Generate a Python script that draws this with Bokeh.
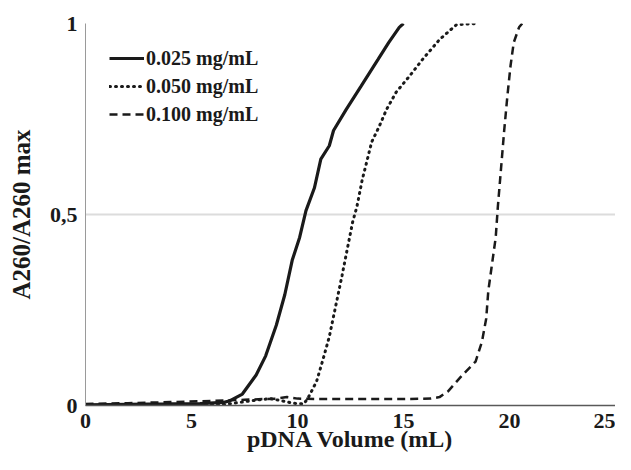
from bokeh.plotting import figure
from bokeh.models import FixedTicker, Legend, LegendItem, Range1d
from bokeh.embed import file_html
from bokeh.resources import INLINE

# ---- data ----
x_025 = [0, 2, 4, 5.4, 6.5, 6.8, 7.4, 8.05, 8.5, 9.0, 9.4, 9.75, 10.1, 10.4, 10.8,
         11.1, 11.5, 11.7, 12.3, 13.0, 13.8, 14.3, 14.8, 15.0]
y_025 = [0.002, 0.003, 0.004, 0.005, 0.008, 0.012, 0.03, 0.08, 0.13, 0.21, 0.29, 0.38,
         0.44, 0.51, 0.57, 0.645, 0.68, 0.72, 0.775, 0.836, 0.906, 0.95, 0.99, 1.0]

x_050 = [0, 3, 6.5, 7.5, 8.2, 8.7, 9.3, 9.8, 10.3, 10.5, 10.9, 11.2, 11.5, 11.8, 12.1,
         12.35, 12.6, 12.8, 13.05, 13.5, 13.85, 14.2, 14.65, 15.25, 15.9, 16.7, 17.5, 18.5]
y_050 = [0.0, 0.0, 0.002, 0.01, 0.015, 0.018, 0.012, 0.006, 0.004, 0.02, 0.063, 0.12,
         0.18, 0.26, 0.34, 0.41, 0.48, 0.52, 0.59, 0.69, 0.73, 0.775, 0.82, 0.86, 0.906,
         0.958, 0.997, 1.0]

x_100 = [0, 2, 4, 6, 7.5, 9, 9.5, 10, 11, 13, 15, 16.3, 16.7, 17.1, 17.75, 18.4, 18.7,
         18.9, 19.0, 19.15, 19.35, 19.45, 19.6, 19.75, 19.9, 20.05, 20.2, 20.45, 20.6]
y_100 = [0.004, 0.006, 0.009, 0.012, 0.015, 0.018, 0.022, 0.018, 0.017, 0.017, 0.017,
         0.018, 0.022, 0.037, 0.078, 0.115, 0.167, 0.227, 0.30, 0.36, 0.44, 0.52, 0.62,
         0.72, 0.81, 0.89, 0.95, 0.99, 1.0]

series_labels = ["0.025 mg/mL", "0.050 mg/mL", "0.100 mg/mL"]
x_ticks = [0, 5, 10, 15, 20, 25]
y_ticks = [0, 0.5, 1]
y_tick_labels = ["0", "0,5", "1"]

FONT = "Liberation Serif"
INK = "#1a1a1a"

p = figure(width=615, height=454, output_backend="svg", toolbar_location=None,
           x_range=Range1d(0, 25), y_range=Range1d(0, 1),
           min_border_left=85, min_border_right=0, min_border_top=23, min_border_bottom=45)
p.outline_line_color = None
p.background_fill_color = "white"
p.border_fill_color = "white"

l1 = p.line(x_025, y_025, line_color=INK, line_width=3.2)
l2 = p.line(x_050, y_050, line_color=INK, line_width=3, line_dash="1 5", line_cap="round")
l3 = p.line(x_100, y_100, line_color=INK, line_width=2.5, line_dash="8 5")

# axes
p.xaxis.ticker = FixedTicker(ticks=x_ticks)
p.yaxis.ticker = FixedTicker(ticks=y_ticks)
p.yaxis.major_label_overrides = {t: s for t, s in zip(y_ticks, y_tick_labels)}
for ax in (p.xaxis, p.yaxis):
    ax.major_tick_line_color = None
    ax.minor_tick_line_color = None
    ax.major_tick_out = 0
    ax.major_tick_in = 0
    ax.minor_tick_out = 0
    ax.minor_tick_in = 0
    ax.major_label_text_font = FONT
    ax.major_label_text_font_style = "bold"
    ax.major_label_text_font_size = "22px"
    ax.major_label_text_color = INK
    ax.axis_label_text_font = FONT
    ax.axis_label_text_font_style = "bold"
    ax.axis_label_text_color = INK
p.xaxis.axis_label_text_font_size = "24px"
p.yaxis.axis_label_text_font_size = "25px"
p.xaxis.axis_line_color = "#595959"
p.xaxis.axis_line_width = 1.5
p.yaxis.axis_line_color = "#9a9a9a"
p.yaxis.axis_line_width = 1
p.xaxis.major_label_standoff = 8
p.yaxis.major_label_standoff = 8
p.xaxis.axis_label = "pDNA Volume (mL)"
p.yaxis.axis_label = "A260/A260 max"
p.xaxis.axis_label_standoff = -5
p.yaxis.axis_label_standoff = 12

p.xgrid.grid_line_color = None
p.ygrid.ticker = FixedTicker(ticks=[0.5, 1])
p.ygrid.grid_line_color = "#dcdcdc"
p.ygrid.grid_line_width = 2

legend = Legend(items=[LegendItem(label=series_labels[0], renderers=[l1]),
                       LegendItem(label=series_labels[1], renderers=[l2]),
                       LegendItem(label=series_labels[2], renderers=[l3])],
                location=(24, 277))
legend.border_line_color = None
legend.background_fill_alpha = 0
legend.padding = 5
legend.margin = 0
legend.spacing = 0
legend.glyph_width = 35
legend.glyph_height = 28
legend.label_height = 28
legend.label_standoff = 2
legend.label_text_font = FONT
legend.label_text_font_style = "bold"
legend.label_text_font_size = "20px"
legend.label_text_color = INK
p.add_layout(legend)

open("out.html", "w").write(file_html(p, INLINE))
